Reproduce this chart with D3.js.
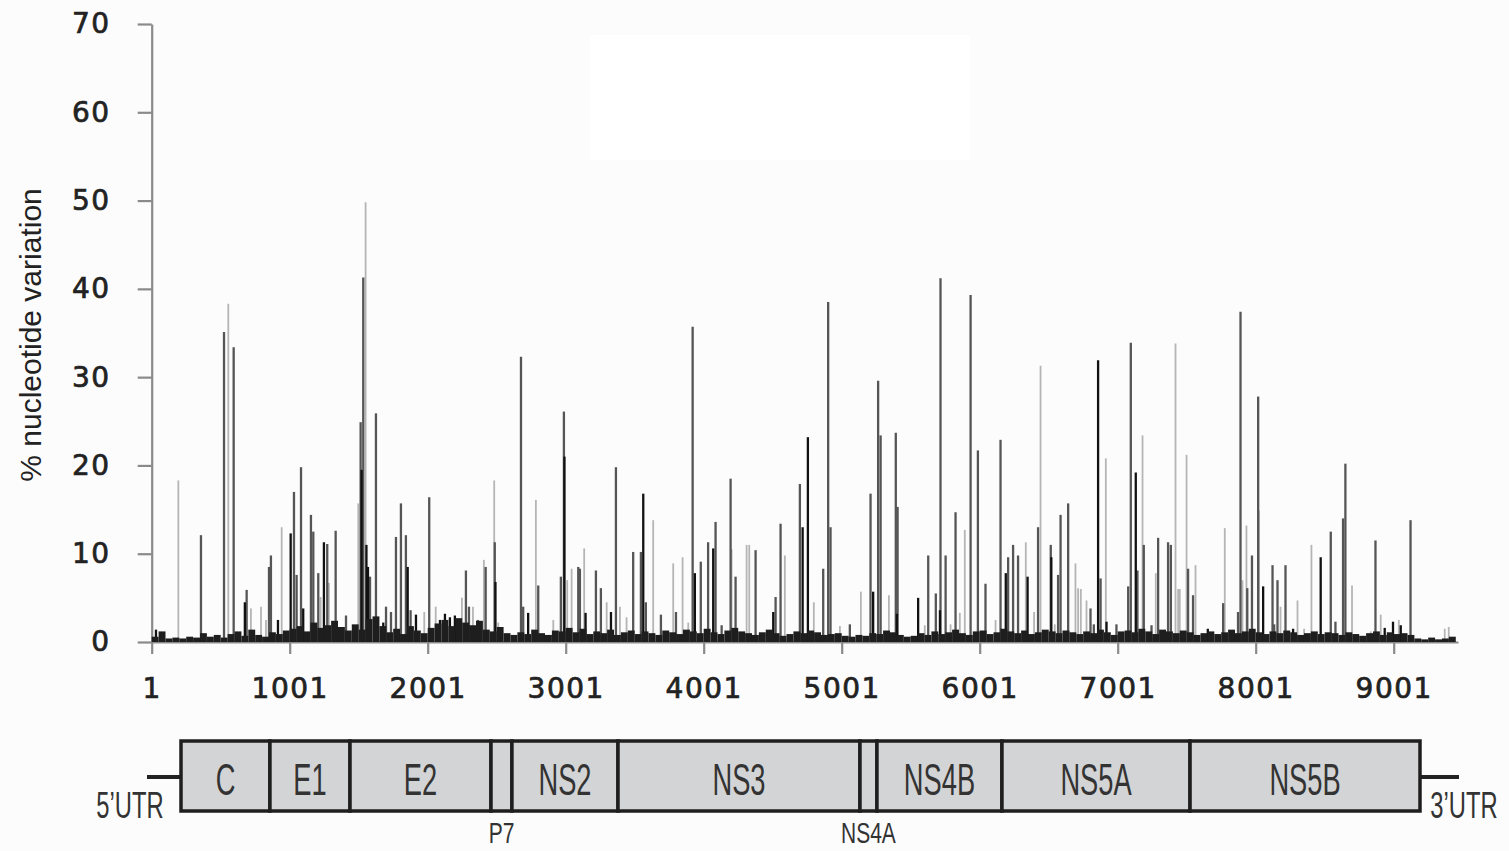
<!DOCTYPE html>
<html>
<head>
<meta charset="utf-8">
<script src="https://cdn.jsdelivr.net/npm/d3@7"></script>
<style>
    body { margin: 0; background: #fcfcfc; }
    svg { display: block; }
</style>
</head>
<body>
<svg id="chart" width="1509" height="851"></svg>
<script>
// spike data, [genome position, % nucleotide variation]
let groupA = [ // black
    [32,1.4],[676,4.5],[916,2.5],[1008,12.3],[1099,3.8],[1249,11.3],[1522,19.5],[1557,11],[1568,8.5],[1633,2.8],
    [1679,2.2],[1856,8.5],[1916,3.1],[2090,2.5],[2126,3.2],[2162,2.8],[2198,3.0],[2492,6.8],[2729,3.3],[2992,21.0],
    [3145,3.3],[3329,3.4],[3563,16.8],[3937,7.8],[4070,10.6],[4505,3.4],[4718,13.0],[4756,23.2],[5229,5.7],[5401,3.2],
    [5555,5.0],[5713,3.6],[6190,7.8],[6348,7.4],[6520,9.6],[6859,31.9],[6920,2.3],[7132,19.2],[7654,1.5],[8055,6.3],
    [8272,1.5],[8472,9.6],[8936,1.6],[8996,2.3],[9052,1.9]
];
let groupB = [ // dark gray
    [358,12.1],[525,35.1],[595,33.4],[689,5.9],[851,8.5],[865,9.8],[1032,17.0],[1051,7.6],[1083,19.8],[1155,14.4],
    [1172,12.5],[1208,7.8],[1273,11.1],[1334,12.6],[1409,3.0],[1515,24.9],[1534,41.3],[1583,7.4],[1626,25.9],[1699,4.0],
    [1735,3.4],[1771,11.9],[1807,15.7],[1843,12.1],[1877,3.6],[2012,16.4],[2278,8.1],[2300,4.0],[2365,2.5],[2421,8.5],
    [2487,11.3],[2677,32.3],[2693,4.0],[2802,6.4],[2966,7.4],[2988,26.1],[3092,8.5],[3104,8.3],[3220,8.1],[3256,6.1],
    [3365,19.8],[3490,10.2],[3546,10.2],[3582,4.5],[3691,3.1],[3800,3.4],[3921,35.7],[3980,9.1],[4033,11.3],[4087,13.6],
    [4131,1.9],[4196,18.5],[4232,7.4],[4377,10.4],[4522,5.1],[4558,13.4],[4698,17.9],[4867,8.3],[4903,38.5],[4920,13.0],
    [5060,2.0],[5210,16.8],[5265,29.6],[5283,23.4],[5393,23.7],[5406,15.3],[5628,9.8],[5683,5.5],[5717,41.2],[5754,9.8],
    [5826,14.7],[5935,39.3],[5988,21.7],[6043,6.6],[6152,22.9],[6207,9.6],[6243,11.0],[6279,9.8],[6424,13.0],[6516,11.0],
    [6569,7.6],[6587,14.4],[6642,15.7],[6804,3.8],[6828,2.0],[6877,7.2],[6992,2.0],[7077,6.3],[7096,33.9],[7144,8.1],
    [7190,11.0],[7246,1.9],[7294,11.8],[7366,11.3],[7386,11.0],[7511,8.3],[7547,5.3],[7765,4.4],[7873,3.4],[7891,37.4],
    [7940,6.1],[7974,9.8],[8019,27.8],[8123,8.7],[8135,2.0],[8159,7.0],[8217,8.7],[8545,12.5],[8579,2.3],[8634,14.0],
    [8651,20.2],[8869,11.5],[9123,13.8]
];
let groupC = [ // light gray
    [194,18.3],[556,38.3],[720,3.8],[793,4.0],[829,2.5],[943,13.0],[1225,5.1],[1285,6.7],[1498,15.7],[1551,49.8],
    [1976,3.4],[2059,4.0],[2249,5.0],[2329,4.0],[2408,9.3],[2483,18.3],[2512,2.2],[2785,16.1],[2911,2.5],[3012,7.0],
    [3044,8.3],[3135,10.6],[3298,4.5],[3394,4.0],[3442,2.8],[3635,13.8],[3780,8.9],[3848,9.6],[3889,2.2],[4203,10.5],
    [4312,11.0],[4331,11.0],[4589,9.8],[4799,4.5],[4988,1.8],[5140,5.7],[5343,5.3],[5603,1.9],[5790,2.0],[5857,3.3],
    [5893,12.7],[6116,2.5],[6335,11.3],[6395,3.4],[6442,31.3],[6545,2.0],[6695,8.9],[6714,6.1],[6734,6.0],[6775,4.7],
    [6915,20.8],[7181,23.4],[7277,7.8],[7420,33.8],[7439,6.0],[7451,6.0],[7500,21.2],[7565,8.7],[7777,12.9],[7905,7.0],
    [7934,13.2],[8024,14.9],[8181,4.0],[8304,4.7],[8352,1.5],[8405,11.0],[8699,6.4],[8835,1.2],[8907,3.1],[9038,2.5],
    [9371,1.5],[9400,1.7]
];

// low-level variation, one value per 50-nt window starting at position 1
let binSize = 50;
let baseline = [
    0.6,1.2,0.4,0.5,0.4,0.6,0.5,1.0,0.6,0.8,0.5,0.9,
    1.2,0.7,1.4,0.8,0.6,1.1,0.9,1.3,
    1.5,1.8,1.2,2.2,1.6,1.9,2.4,1.7,1.3,2.0,1.4,2.6,2.9,1.8,
    1.1,1.5,0.9,1.8,1.3,1.0,1.6,2.1,2.5,1.8,2.7,2.2,1.9,2.4,1.4,1.2,1.7,1.0,0.8,
    1.1,0.9,1.4,1.0,0.8,1.3,1.2,1.6,1.1,1.5,0.9,1.2,1.0,1.4,0.8,1.1,1.3,0.9,
    1.2,1.0,0.8,1.3,1.1,0.9,1.4,1.2,1.0,1.5,1.1,0.9,1.3,1.6,1.2,1.0,0.8,1.1,1.4,1.0,0.7,0.9,1.2,1.0,1.3,1.1,0.8,0.9,1.0,0.7,
    0.6,0.8,0.7,1.0,0.9,1.3,1.1,0.8,0.6,0.7,
    1.0,0.8,1.2,0.9,1.1,1.4,1.0,0.8,1.2,1.3,0.9,1.1,1.5,1.2,1.0,1.3,0.9,1.1,1.4,1.2,1.0,1.3,1.1,0.9,1.2,1.0,1.4,1.1,0.8,1.2,
    1.3,1.1,1.5,1.2,0.9,1.4,1.2,1.0,1.3,1.1,0.8,1.0,1.2,0.9,1.1,1.4,1.0,1.2,1.5,1.1,0.9,1.2,1.0,1.3,1.1,0.8,1.0,1.2,0.9,1.1,
    1.0,0.8,1.1,0.9,0.7,1.0,1.2,0.8,1.1,0.9,1.0,0.8,
    0.4,0.3,0.5,0.3,0.4,0.6
];

let xTicks = [1, 1001, 2001, 3001, 4001, 5001, 6001, 7001, 8001, 9001];
let yTicks = [0, 10, 20, 30, 40, 50, 60, 70];
let genomeLength = 9467;

// genome map (schematic, not to scale): region names and edges in % of the map width
let regionNames = ["C", "E1", "E2", "P7", "NS2", "NS3", "NS4A", "NS4B", "NS5A", "NS5B"];
let regionEdges = [0, 7.18, 13.64, 25.02, 26.71, 35.27, 54.8, 56.17, 66.26, 81.44, 100];
let labelsBelow = ["P7", "NS4A"];

let svg = d3.select("#chart");

let plotLeft = 151.7, plotRight = 1458;
let plotTop = 24, plotBottom = 642;

let x = d3.scaleLinear().domain([1, genomeLength]).range([plotLeft, plotRight]);
let y = d3.scaleLinear().domain([0, 70]).range([plotBottom, plotTop]);

// blank white patch of the original picture
svg.append("rect").attr("x", 590).attr("y", 35).attr("width", 380).attr("height", 125).attr("fill", "#fff");

//=================================
//           AXES
//=================================
let yAxis = d3.axisLeft(y).tickValues(yTicks).tickSize(14).tickSizeOuter(0).tickPadding(27);
let gy = svg.append("g").attr("transform", "translate(" + plotLeft + ",0)").call(yAxis);

let xAxis = d3.axisBottom(x).tickValues(xTicks).tickFormat(d3.format("d"))
    .tickSize(12).tickSizeOuter(0).tickPadding(24);
let gx = svg.append("g").attr("transform", "translate(0," + plotBottom + ")").call(xAxis);

[gx, gy].forEach(function (g) {
    g.select(".domain").attr("stroke", "#8a8a8a").attr("stroke-width", 2.2);
    g.selectAll(".tick line").attr("stroke", "#8a8a8a").attr("stroke-width", 2.2);
    g.selectAll(".tick text")
        .attr("fill", "#222")
        .attr("stroke", "#222")
        .attr("stroke-width", 0.7)
        .style("font-family", "'DejaVu Sans', Verdana, sans-serif")
        .style("font-size", "28px")
        .style("letter-spacing", "1.5px");
});

svg.append("text")
    .attr("transform", "translate(41,335) rotate(-90)")
    .attr("text-anchor", "middle")
    .attr("fill", "#222")
    .style("font-family", "'Liberation Sans', Arial, sans-serif")
    .style("font-size", "30px")
    .text("% nucleotide variation");

//=================================
//           SPIKES
//=================================
function drawSpikes(data, colour, strokeWidth) {
    svg.append("g").selectAll("line")
        .data(data)
        .join("line")
        .attr("x1", d => x(d[0]))
        .attr("x2", d => x(d[0]))
        .attr("y1", y(0))
        .attr("y2", d => y(d[1]))
        .attr("stroke", colour)
        .attr("stroke-width", strokeWidth);
}
drawSpikes(groupC, "#b5b5b5", 1.8);
drawSpikes(groupB, "#555", 2.3);
drawSpikes(groupA, "#111", 2.3);

// dense low band along the axis
svg.append("g").selectAll("rect")
    .data(baseline)
    .join("rect")
    .attr("x", (d, i) => x(1 + i * binSize))
    .attr("width", (d, i) => x(1 + (i + 1) * binSize) - x(1 + i * binSize))
    .attr("y", d => y(d))
    .attr("height", d => y(0) - y(d))
    .attr("fill", "#1e1e1e");

//=================================
//           GENOME MAP
//=================================
let mapTop = 741, mapHeight = 70, mapMid = 777;
let m = d3.scaleLinear().domain([0, 100]).range([181, 1420]);

svg.append("line").attr("x1", 147).attr("x2", m(0)).attr("y1", mapMid).attr("y2", mapMid)
    .attr("stroke", "#222").attr("stroke-width", 4);
svg.append("line").attr("x1", m(100)).attr("x2", 1459).attr("y1", mapMid).attr("y2", mapMid)
    .attr("stroke", "#222").attr("stroke-width", 4);

let regions = regionNames.map((name, i) => ({ name: name, start: regionEdges[i], end: regionEdges[i + 1] }));

svg.append("g").selectAll("rect")
    .data(regions)
    .join("rect")
    .attr("x", d => m(d.start))
    .attr("width", d => m(d.end) - m(d.start))
    .attr("y", mapTop)
    .attr("height", mapHeight)
    .attr("fill", "#d3d4d6")
    .attr("stroke", "#1e1e1e")
    .attr("stroke-width", 3.5);

/**
 * Tall, narrow label like the condensed face of the original.
 */
function condensedLabel(text, cx, baseY, size, squeeze) {
    svg.append("g")
        .attr("transform", "translate(" + cx + "," + baseY + ") scale(" + squeeze + ",1)")
        .append("text")
        .attr("text-anchor", "middle")
        .attr("fill", "#333")
        .style("font-family", "'Liberation Sans', Arial, sans-serif")
        .style("font-size", size + "px")
        .text(text);
}

regions.forEach(function (r) {
    let cx = (m(r.start) + m(r.end)) / 2;
    if (labelsBelow.includes(r.name)) {
        condensedLabel(r.name, cx, 843, 30, 0.7);
    } else {
        condensedLabel(r.name, cx, 795, 44, 0.62);
    }
});
condensedLabel("5\u2019UTR", 130, 818, 36, 0.66);
condensedLabel("3\u2019UTR", 1464, 818, 36, 0.66);
</script>
</body>
</html>
